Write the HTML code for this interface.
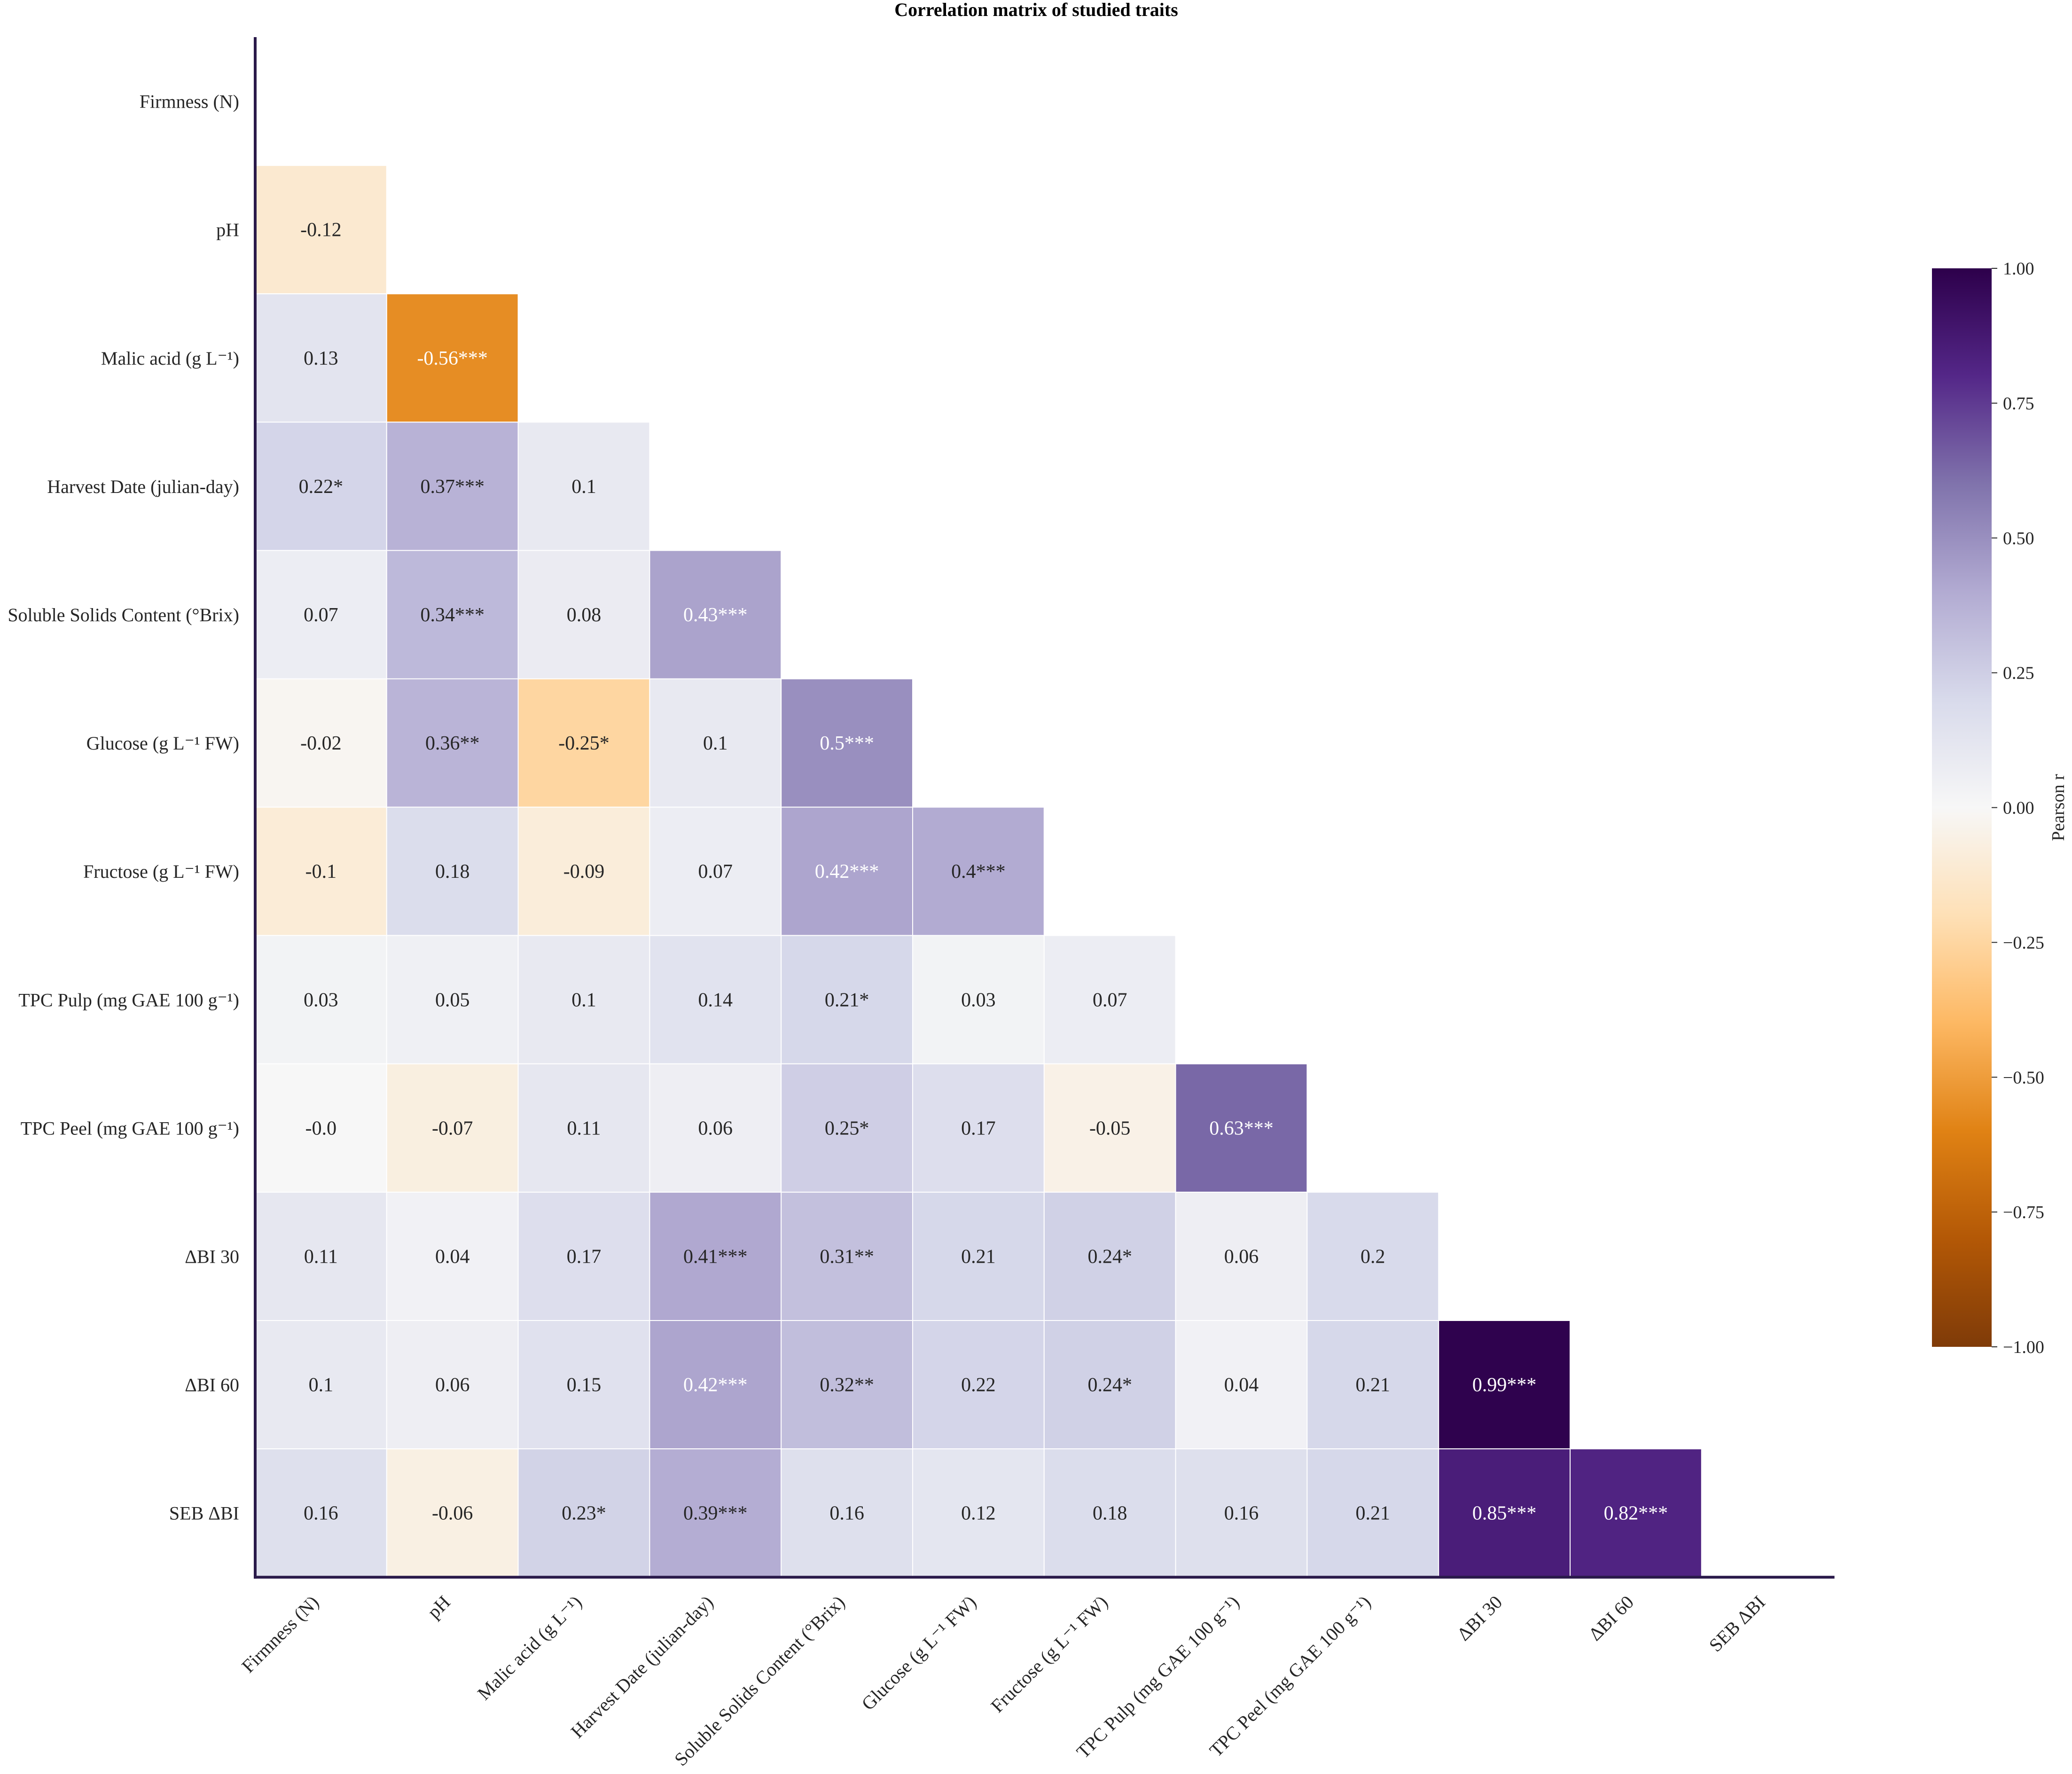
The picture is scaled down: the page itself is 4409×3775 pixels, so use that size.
<!DOCTYPE html>
<html><head><meta charset="utf-8"><style>
html,body{margin:0;padding:0;background:#fff;}
svg{display:block;font-family:"Liberation Serif",serif;}
</style></head><body>
<svg id="chart" width="4409" height="3775" viewBox="0 0 4409 3775" xmlns="http://www.w3.org/2000/svg">
<text x="2205" y="34" font-size="40" font-weight="bold" text-anchor="middle">Correlation matrix of studied traits</text>
<defs><linearGradient id="cbg" x1="0" y1="1" x2="0" y2="0">
<stop offset="0" stop-color="#7f3b08"/><stop offset="0.1" stop-color="#b35806"/><stop offset="0.2" stop-color="#e08214"/><stop offset="0.3" stop-color="#fdb863"/><stop offset="0.4" stop-color="#fee0b6"/><stop offset="0.5" stop-color="#f7f7f7"/><stop offset="0.6" stop-color="#d8daeb"/><stop offset="0.7" stop-color="#b2abd2"/><stop offset="0.8" stop-color="#8073ac"/><stop offset="0.9" stop-color="#542788"/><stop offset="1" stop-color="#2d004b"/>
</linearGradient></defs>
<g id="cells"></g><g id="ylabels"></g><g id="xlabels"></g><g id="cbar"></g><g id="axes"></g>
</svg>
<script>
const labels = ["Firmness (N)","pH","Malic acid (g L\u207B\u00B9)","Harvest Date (julian-day)","Soluble Solids Content (\u00B0Brix)","Glucose (g L\u207B\u00B9 FW)","Fructose (g L\u207B\u00B9 FW)","TPC Pulp (mg GAE 100 g\u207B\u00B9)","TPC Peel (mg GAE 100 g\u207B\u00B9)","\u0394BI 30","\u0394BI 60","SEB \u0394BI"];
const values = [
[],
[-0.12],
[0.13,-0.56],
[0.22,0.37,0.1],
[0.07,0.34,0.08,0.43],
[-0.02,0.36,-0.25,0.1,0.5],
[-0.1,0.18,-0.09,0.07,0.42,0.4],
[0.03,0.05,0.1,0.14,0.21,0.03,0.07],
[-0.0,-0.07,0.11,0.06,0.25,0.17,-0.05,0.63],
[0.11,0.04,0.17,0.41,0.31,0.21,0.24,0.06,0.2],
[0.1,0.06,0.15,0.42,0.32,0.22,0.24,0.04,0.21,0.99],
[0.16,-0.06,0.23,0.39,0.16,0.12,0.18,0.16,0.21,0.85,0.82]];
const stars = [
[],
[""],
["","***"],
["*","***",""],
["","***","","***"],
["","**","*","","***"],
["","","","","***","***"],
["","","","","*","",""],
["","","","","*","","","***"],
["","","","***","**","","*","",""],
["","","","***","**","","*","","","***"],
["","","*","***","","","","","","***","***"]];
const cbTicks = [1,0.75,0.5,0.25,0,-0.25,-0.5,-0.75,-1];

const NS="http://www.w3.org/2000/svg";
const X0=543, Y0=79, CW=279.8, CH=273.1, N=12;
const xs=i=>X0+i*CW, ys=i=>Y0+i*CH;
const CB={x:4111,w:127,top:571,bot:2866};
const cbY=v=>CB.top+(1-v)/2*(CB.bot-CB.top);
const stops=["#7f3b08","#b35806","#e08214","#fdb863","#fee0b6","#f7f7f7","#d8daeb","#b2abd2","#8073ac","#542788","#2d004b"];
function hex(h){return [1,3,5].map(i=>parseInt(h.substr(i,2),16));}
function color(v){let t=(v+1)/2*10;t=Math.max(0,Math.min(10,t));let i=Math.min(9,Math.floor(t)),f=t-i;
 const a=hex(stops[i]),b=hex(stops[i+1]);return "rgb("+a.map((c,k)=>Math.round(c+(b[k]-c)*f)).join(",")+")";}
function el(tag,attrs,parent,txt){const e=document.createElementNS(NS,tag);for(const k in attrs)e.setAttribute(k,attrs[k]);if(txt!==undefined)e.textContent=txt;parent.appendChild(e);return e;}
function fmt(v){if(Object.is(v,-0)||(v<0&&Math.round(v*100)===0))return "-0.0";let s=String(Math.round(v*100)/100);return s;}

const gC=document.getElementById("cells");
for(let r=0;r<N;r++){for(let c=0;c<values[r].length;c++){
 const v=values[r][c];
 const rect=el("rect",{x:xs(c),y:ys(r),width:CW,height:CH,fill:color(v),stroke:"#ffffff","stroke-width":2},gC);
 
 
 const t=el("text",{x:xs(c)+CW/2,y:ys(r)+CH/2+14,"font-size":42,"text-anchor":"middle",fill:Math.abs(v)>0.415?"#ffffff":"#262626"},gC,fmt(v)+stars[r][c]);
 
 
}}
const gY=document.getElementById("ylabels"),gX=document.getElementById("xlabels");
labels.forEach((l,i)=>{
 const t=el("text",{x:509,y:ys(i)+CH/2+14,"font-size":40,"text-anchor":"end",fill:"#262626"},gY,l);
 
 
 const cx=xs(i)+CW/2-22, cy=3392;
 const u=el("text",{x:cx,y:cy+28,"font-size":40,"text-anchor":"end",fill:"#262626",transform:"rotate(-45 "+cx+" "+cy+")"},gX,l);
 
 
});
const gA=document.getElementById("axes");
const ax1=el("line",{x1:X0,y1:Y0,x2:X0,y2:ys(N)+3,stroke:"#2a1a4a","stroke-width":6},gA);


const ax2=el("line",{x1:X0-3,y1:ys(N),x2:xs(N)+3,y2:ys(N),stroke:"#2a1a4a","stroke-width":6},gA);



const gB=document.getElementById("cbar");
const cb=el("rect",{x:CB.x,y:CB.top,width:CB.w,height:CB.bot-CB.top,fill:"url(#cbg)"},gB);


cbTicks.forEach(v=>{
 const y=cbY(v);
 const tk=el("line",{x1:CB.x+CB.w,y1:y,x2:CB.x+CB.w+12,y2:y,stroke:"#262626","stroke-width":2},gB);
 
 
 const t=el("text",{x:CB.x+CB.w+24,y:y+13,"font-size":38,fill:"#262626"},gB,(v<0?"\u2212":"")+Math.abs(v).toFixed(2));
 
 
});
const cl=el("text",{x:4392,y:(CB.top+CB.bot)/2,"font-size":38,"text-anchor":"middle",fill:"#262626",transform:"rotate(-90 4392 "+((CB.top+CB.bot)/2)+")"},gB,"Pearson r");


</script>
</body></html>
